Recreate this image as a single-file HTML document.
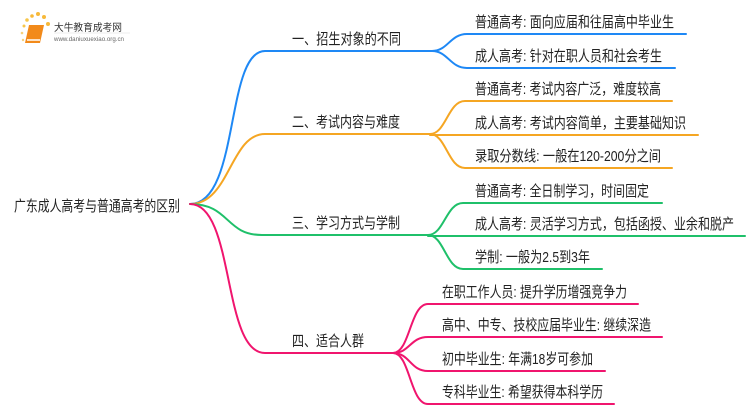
<!DOCTYPE html>
<html><head><meta charset="utf-8"><style>
html,body{margin:0;padding:0;background:#fff;}
svg{display:block;}
text{font-family:"Liberation Sans","Noto Sans CJK SC",sans-serif;fill:#222;font-size:15px;}
</style></head><body>
<svg width="750" height="410" viewBox="0 0 750 410" xmlns="http://www.w3.org/2000/svg">
<g>
<circle cx="24" cy="26" r="1.5" fill="#f7c64a"/><circle cx="27" cy="20" r="1.8" fill="#f7c64a"/>
<circle cx="32" cy="16" r="1.8" fill="#f7b93a"/><circle cx="38" cy="14" r="2" fill="#f7b93a"/>
<circle cx="44" cy="17" r="2" fill="#f7b93a"/><circle cx="48" cy="24" r="2" fill="#f7b93a"/>
<circle cx="22" cy="33" r="1.3" fill="#f7d07a"/><circle cx="23" cy="40" r="1.2" fill="#f7d07a"/>
<path d="M29 25 L44 25 L40 43 L25 43 Z" fill="#f28a1a"/>
<path d="M27 40 L40 40" stroke="#fff" stroke-width="1.5"/>
<text x="54" y="31" textLength="68" lengthAdjust="spacingAndGlyphs" style="font-size:10px;fill:#333">大牛教育成考网</text>
<text x="54" y="41" textLength="70" lengthAdjust="spacingAndGlyphs" style="font-size:6px;fill:#666">www.daniuxuexiao.org.cn</text>
<line x1="54" y1="33" x2="130" y2="33" stroke="#ddd" stroke-width="0.6"/>
</g>
<g fill="none" stroke-width="2" stroke-linecap="round">
<path d="M190 204 C240 204 225 51 265 51 L432 51" stroke="#1e88f5"/>
<path d="M432 51 C448 51 450 34 467 34 L686 34" stroke="#1e88f5"/>
<path d="M432 51 C448 51 450 68 467 68 L675 68" stroke="#1e88f5"/>
<path d="M190 204 C230 204 230 134 265 134 L430 134" stroke="#f5a623"/>
<path d="M430 134 C446 134 448 101 465 101 L672 101" stroke="#f5a623"/>
<path d="M430 135 L698 135" stroke="#f5a623"/>
<path d="M430 134 C446 134 448 168 465 168 L672 168" stroke="#f5a623"/>
<path d="M190 204 C230 204 225 235 262 235 L428 235" stroke="#1fc06a"/>
<path d="M428 235 C444 235 446 203 463 203 L662 203" stroke="#1fc06a"/>
<path d="M428 236 L745 236" stroke="#1fc06a"/>
<path d="M428 235 C444 235 446 269 463 269 L602 269" stroke="#1fc06a"/>
<path d="M190 204 C235 204 222 353 265 353 L393 353" stroke="#f0156e"/>
<path d="M393 353 C410 353 410 304 428 304 L638 304" stroke="#f0156e"/>
<path d="M393 353 C410 353 410 337 428 337 L662 337" stroke="#f0156e"/>
<path d="M393 353 C410 353 410 371 428 371 L605 371" stroke="#f0156e"/>
<path d="M393 353 C410 353 410 404 428 404 L614 404" stroke="#f0156e"/>
</g>
<g>
<text x="14" y="211" textLength="166" lengthAdjust="spacingAndGlyphs">广东成人高考与普通高考的区别</text>
<text x="292" y="44" textLength="109" lengthAdjust="spacingAndGlyphs">一、招生对象的不同</text>
<text x="292" y="127" textLength="108" lengthAdjust="spacingAndGlyphs">二、考试内容与难度</text>
<text x="292" y="228" textLength="108" lengthAdjust="spacingAndGlyphs">三、学习方式与学制</text>
<text x="292" y="346" textLength="72" lengthAdjust="spacingAndGlyphs">四、适合人群</text>
<text x="475" y="27" textLength="199" lengthAdjust="spacingAndGlyphs">普通高考: 面向应届和往届高中毕业生</text>
<text x="475" y="61" textLength="187" lengthAdjust="spacingAndGlyphs">成人高考: 针对在职人员和社会考生</text>
<text x="475" y="94" textLength="186" lengthAdjust="spacingAndGlyphs">普通高考: 考试内容广泛，难度较高</text>
<text x="475" y="128" textLength="211" lengthAdjust="spacingAndGlyphs">成人高考: 考试内容简单，主要基础知识</text>
<text x="475" y="161" textLength="186" lengthAdjust="spacingAndGlyphs">录取分数线: 一般在120-200分之间</text>
<text x="475" y="196" textLength="174" lengthAdjust="spacingAndGlyphs">普通高考: 全日制学习，时间固定</text>
<text x="475" y="229" textLength="259" lengthAdjust="spacingAndGlyphs">成人高考: 灵活学习方式，包括函授、业余和脱产</text>
<text x="475" y="262" textLength="115" lengthAdjust="spacingAndGlyphs">学制: 一般为2.5到3年</text>
<text x="442" y="297" textLength="185" lengthAdjust="spacingAndGlyphs">在职工作人员: 提升学历增强竞争力</text>
<text x="442" y="330" textLength="209" lengthAdjust="spacingAndGlyphs">高中、中专、技校应届毕业生: 继续深造</text>
<text x="442" y="364" textLength="151" lengthAdjust="spacingAndGlyphs">初中毕业生: 年满18岁可参加</text>
<text x="442" y="397" textLength="161" lengthAdjust="spacingAndGlyphs">专科毕业生: 希望获得本科学历</text>
</g>
</svg>
</body></html>
